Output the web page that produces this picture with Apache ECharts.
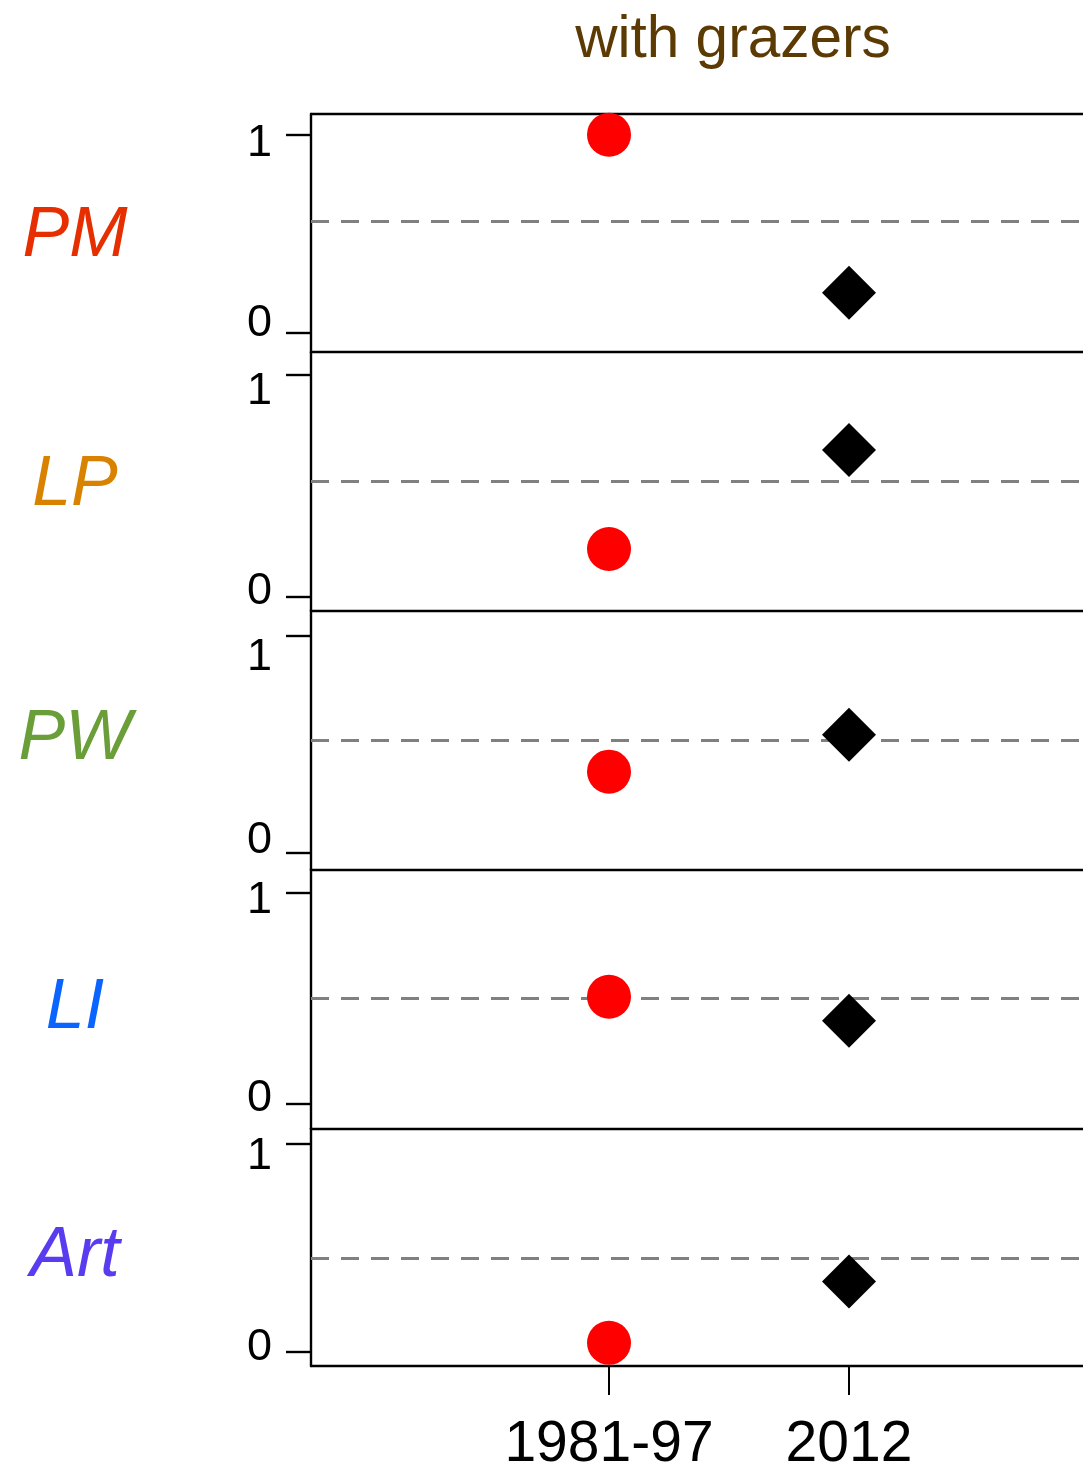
<!DOCTYPE html>
<html>
<head>
<meta charset="utf-8">
<script src="https://cdn.jsdelivr.net/npm/echarts@6/dist/echarts.min.js"></script>
<style>
html,body{margin:0;padding:0;background:#fff;}
#chart{width:1083px;height:1474px;}
</style>
</head>
<body>
<div id="chart"></div>
<script>
// ---- data ----
var periods = ['1981-97', '2012'];
var groups = ['PM', 'LP', 'PW', 'LI', 'Art'];
var groupColors = ['#e62e00', '#d98200', '#6a9e38', '#0a64ff', '#5a3cf0'];
var early = [1.0, 0.215, 0.374, 0.505, 0.045];     // red circles, 1981-97
var recent = [0.200, 0.661, 0.545, 0.391, 0.338];  // black diamonds, 2012
var reference = [0.555, 0.520, 0.521, 0.496, 0.454]; // dashed reference lines
var yTicks = [0, 1];

// ---- layout ----
var FONT = "'Liberation Sans', Arial, Helvetica, sans-serif";
var gridTops = [114, 352, 610.5, 869.5, 1128.3];
var gridHeights = [238.2, 258.5, 259, 258.8, 238.3];
var yMins = [-0.101, -0.062, -0.078, -0.118, -0.066];
var yMaxs = [1.105, 1.102, 1.119, 1.108, 1.072];
// label vertical shifts (px, + = down) for "1" and "0"
var shiftTop = [7.3, 15.3, 19.7, 6.7, 11.7];
var shiftBot = [10.3, 6.7, 13.7, 6.6, 6.7];
var nameShift = [3, 4, 0, 10, 9];

var grids = [], xAxes = [], yAxes = [], series = [];
var LINE = { color: '#000', width: 2.4 };
for (var i = 0; i < groups.length; i++) {
  grids.push({ left: 311, right: 0, top: gridTops[i], height: gridHeights[i] });
  var last = (i === groups.length - 1);
  xAxes.push({
    gridIndex: i, type: 'value', min: -0.2417, max: 2.975, position: 'bottom',
    axisLine: { show: true, onZero: false, lineStyle: LINE },
    axisTick: { show: last, customValues: [1, 2], length: 29, lineStyle: { color: '#000', width: 2 } },
    axisLabel: {
      show: last, customValues: [1, 2], margin: 51,
      fontSize: 57, color: '#000', fontFamily: FONT,
      formatter: function (v) { return periods[Math.round(v) - 1]; }
    },
    splitLine: { show: false }
  });
  (function (idx) {
    yAxes.push({
      gridIndex: idx, type: 'value', min: yMins[idx], max: yMaxs[idx],
      name: '{n|' + groups[idx] + '}', nameLocation: 'middle', nameRotate: 0, nameGap: 236,
      nameTextStyle: {
        fontSize: 70, fontStyle: 'italic', color: groupColors[idx], fontFamily: FONT,
        align: 'center', verticalAlign: 'middle',
        rich: {
          n: {
            fontSize: 70, fontStyle: 'italic', color: groupColors[idx], fontFamily: FONT,
            padding: [2 * nameShift[idx], 0, 0, 0]
          }
        }
      },
      axisLine: { show: true, onZero: false, lineStyle: LINE },
      axisTick: { show: true, customValues: yTicks, length: 25, lineStyle: LINE },
      axisLabel: {
        customValues: yTicks, margin: 39, fontSize: 45, color: '#000', fontFamily: FONT,
        formatter: function (v) {
          return v >= 0.5 ? '{t|' + Math.round(v) + '}' : '{b|' + Math.round(v) + '}';
        },
        rich: {
          t: { fontSize: 45, fontFamily: FONT, color: '#000', padding: [2 * shiftTop[idx] + 4, 0, 0, 0] },
          b: { fontSize: 45, fontFamily: FONT, color: '#000', padding: [0, 0, 2 * shiftBot[idx] - 4, 0] }
        }
      },
      splitLine: { show: false }
    });
  })(i);
  series.push({
    type: 'scatter', xAxisIndex: i, yAxisIndex: i, z: 3,
    symbol: 'circle', symbolSize: 44,
    itemStyle: { color: '#ff0000', opacity: 1 },
    data: [[1, early[i]]],
    markLine: {
      silent: true, symbol: 'none', z: 1,
      label: { show: false },
      lineStyle: { color: '#808080', width: 3, type: [18, 12] },
      data: [{ yAxis: reference[i] }]
    }
  });
  series.push({
    type: 'scatter', xAxisIndex: i, yAxisIndex: i, z: 3,
    symbol: 'diamond', symbolSize: 54,
    itemStyle: { color: '#000000', opacity: 1 },
    data: [[2, recent[i]]]
  });
}
// top frame line of the first panel
xAxes.push({
  gridIndex: 0, type: 'value', min: -0.2417, max: 2.975, position: 'top',
  axisLine: { show: true, onZero: false, lineStyle: LINE },
  axisTick: { show: false }, axisLabel: { show: false }, splitLine: { show: false }
});

var chart = echarts.init(document.getElementById('chart'), null, { renderer: 'canvas' });
chart.setOption({
  animation: false,
  backgroundColor: '#ffffff',
  title: {
    text: 'with grazers', left: 728, top: 6, textAlign: 'center',
    textStyle: { fontSize: 58.5, fontWeight: 'normal', color: '#5c3a04', fontFamily: FONT }
  },
  grid: grids, xAxis: xAxes, yAxis: yAxes, series: series
});
</script>
</body>
</html>
